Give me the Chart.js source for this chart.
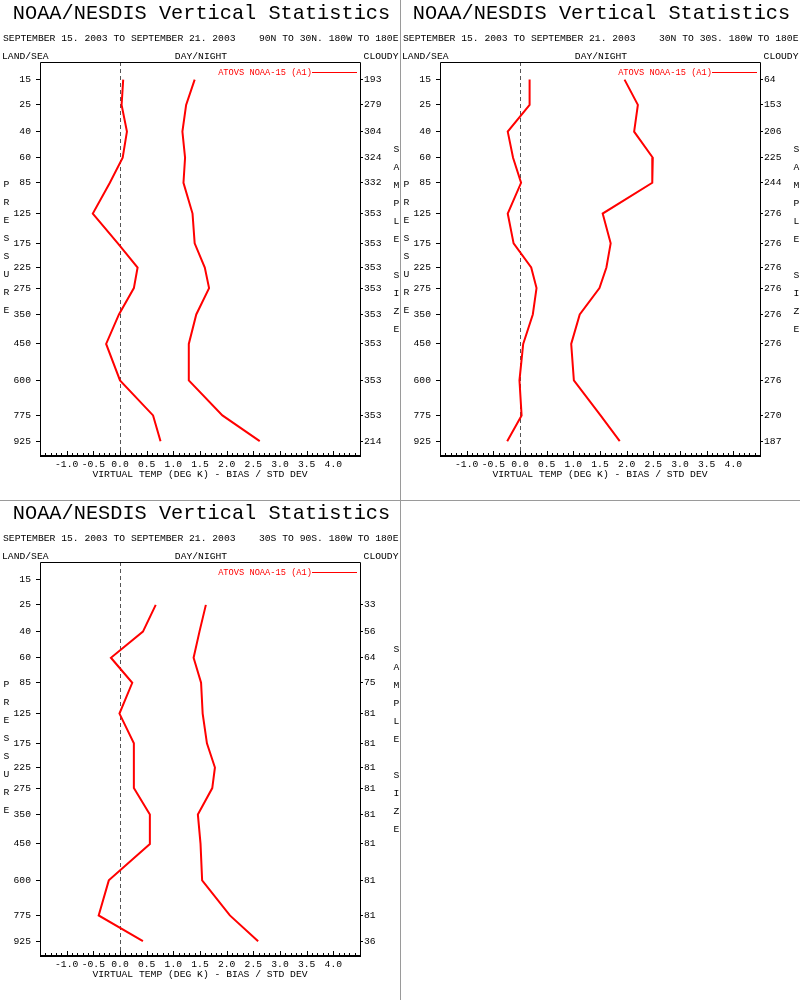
<!DOCTYPE html>
<html lang="en">
<head>
  <meta charset="UTF-8" />
  <title>NOAA/NESDIS Vertical Statistics</title>
  <script src="https://cdn.jsdelivr.net/npm/chart.js"></script>
  <style>
    body {
      margin: 0;
      background: #fff;
      width: 800px;
      height: 1000px;
      position: relative;
      overflow: hidden;
    }
    .panel {
      position: absolute;
      width: 400px;
      height: 500px;
    }
    .sep {
      position: absolute;
      background: #9a9a9a;
      z-index: 2;
    }
  </style>
</head>
<body>
  <div class="panel" style="left:0;top:0"><canvas id="p1" width="400" height="500"></canvas></div>
  <div class="panel" style="left:400px;top:0"><canvas id="p2" width="400" height="500"></canvas></div>
  <div class="panel" style="left:0;top:500px"><canvas id="p3" width="400" height="500"></canvas></div>
  <div class="sep" style="left:400px;top:0;width:1px;height:1000px"></div>
  <div class="sep" style="left:0;top:500px;width:800px;height:1px"></div>

  <script>
    // pressure levels (hPa), the y axis is linear in p^0.286
    const levels = [15, 25, 40, 60, 85, 125, 175, 225, 275, 350, 450, 600, 775, 925];
    const xTicks = [-1.5, -1.0, -0.5, 0.0, 0.5, 1.0, 1.5, 2.0, 2.5, 3.0, 3.5, 4.0, 4.5];

    // 90N to 30N
    const bias1 = [0.06, 0.03, 0.13, 0.05, -0.19, -0.51, -0.04, 0.33, 0.26, -0.02, -0.26, 0.00, 0.62, 0.76];
    const std1 = [1.40, 1.24, 1.17, 1.22, 1.19, 1.36, 1.40, 1.59, 1.67, 1.43, 1.29, 1.29, 1.92, 2.62];
    const count1 = [193, 279, 304, 324, 332, 353, 353, 353, 353, 353, 353, 353, 353, 214];

    // 30N to 30S
    const bias2 = [0.18, 0.18, -0.23, -0.13, 0.02, -0.23, -0.12, 0.21, 0.31, 0.24, 0.06, -0.01, 0.03, -0.24];
    const std2 = [1.96, 2.21, 2.14, 2.49, 2.48, 1.55, 1.70, 1.62, 1.49, 1.12, 0.96, 1.01, 1.51, 1.87];
    const count2 = [64, 153, 206, 225, 244, 276, 276, 276, 276, 276, 276, 276, 270, 187];

    // 30S to 90S (no data at 15 hPa)
    const bias3 = [null, 0.67, 0.43, -0.17, 0.23, -0.01, 0.26, 0.26, 0.26, 0.56, 0.56, -0.21, -0.40, 0.43];
    const std3 = [null, 1.61, 1.49, 1.38, 1.52, 1.55, 1.63, 1.78, 1.73, 1.46, 1.51, 1.54, 2.06, 2.59];
    const count3 = [null, 33, 56, 64, 75, 81, 81, 81, 81, 81, 81, 81, 81, 36];

    const K = 0.286;
    const FONT = 'Liberation Mono';
    const SMALL = 9.7;
    const RED = '#ff0000';
    const period = 'SEPTEMBER 15. 2003 TO SEPTEMBER 21. 2003';
    const satName = 'ATOVS NOAA-15 (A1)';

    const decor = {
      id: 'decor',
      beforeDatasetsDraw(chart) {
        const { ctx, chartArea: a, scales } = chart;
        const x0 = Math.round(scales.x.getPixelForValue(0)) + 0.5;
        ctx.save();
        ctx.strokeStyle = '#555';
        ctx.lineWidth = 1;
        ctx.setLineDash([4, 3]);
        ctx.beginPath();
        ctx.moveTo(x0, a.top);
        ctx.lineTo(x0, a.bottom);
        ctx.stroke();
        ctx.restore();
      },
      afterDraw(chart) {
        const { ctx, chartArea: a, scales } = chart;
        const o = chart.options.plugins.decor;
        ctx.save();
        // plot box
        ctx.strokeStyle = '#000';
        ctx.lineWidth = 1;
        ctx.beginPath();
        ctx.moveTo(a.left + 0.5, a.bottom);
        ctx.lineTo(a.left + 0.5, a.top + 0.5);
        ctx.lineTo(a.right + 0.5, a.top + 0.5);
        ctx.lineTo(a.right + 0.5, a.bottom);
        ctx.stroke();
        ctx.lineWidth = 2;
        ctx.beginPath();
        ctx.moveTo(a.left, a.bottom);
        ctx.lineTo(a.right + 1, a.bottom);
        ctx.stroke();
        // minor / major ticks on the x axis, pointing inward
        ctx.lineWidth = 1;
        ctx.beginPath();
        for (let i = -15; i <= 45; i++) {
          const px = Math.round(scales.x.getPixelForValue(i / 10)) + 0.5;
          const len = i % 5 === 0 ? 4 : 2;
          ctx.moveTo(px, a.bottom);
          ctx.lineTo(px, a.bottom - 1 - len);
        }
        ctx.stroke();

        // header texts
        ctx.fillStyle = '#000';
        ctx.textBaseline = 'alphabetic';
        ctx.font = '20.3px "' + FONT + '"';
        ctx.textAlign = 'center';
        ctx.fillText('NOAA/NESDIS Vertical Statistics', 201.5, 18.5);
        ctx.font = SMALL + 'px "' + FONT + '"';
        ctx.textAlign = 'left';
        ctx.fillText(period, 3, 40.5);
        ctx.fillText('LAND/SEA', 2, 58.5);
        ctx.textAlign = 'right';
        ctx.fillText(o.region, 398.5, 40.5);
        ctx.fillText('CLOUDY', 398.5, 58.5);
        ctx.textAlign = 'center';
        ctx.fillText('DAY/NIGHT', 201, 58.5);

        // vertical labels
        'PRESSURE'.split('').forEach((c, i) => ctx.fillText(c, 6.5, 186.5 + i * 18.1));
        'SAMPLE SIZE'.split('').forEach((c, i) => ctx.fillText(c, 396.5, 151.5 + i * 18.0));

        // legend
        ctx.fillStyle = RED;
        ctx.font = '8.7px "' + FONT + '"';
        ctx.textAlign = 'right';
        ctx.fillText(satName, 312, 75.3);
        ctx.strokeStyle = RED;
        ctx.beginPath();
        ctx.moveTo(312, 72.5);
        ctx.lineTo(357, 72.5);
        ctx.stroke();
        ctx.restore();
      }
    };

    function makePanel(id, region, bias, std, counts) {
      const pts = vals => levels
        .map((p, i) => (vals[i] == null ? null : { x: vals[i], y: Math.pow(p, K) }))
        .filter(Boolean);
      const tickFont = { family: FONT, size: SMALL };
      const levelTicks = s => { s.ticks = levels.map(p => ({ value: Math.pow(p, K) })); };
      const yBase = {
        type: 'linear',
        reverse: true,
        min: Math.pow(10, K),
        max: Math.pow(1020, K),
        afterBuildTicks: levelTicks,
        border: { display: false },
        afterFit: s => { s.width = 40; }
      };

      new Chart(document.getElementById(id), {
        type: 'line',
        data: {
          datasets: [
            { label: 'bias', data: pts(bias), borderColor: RED, borderWidth: 2, pointRadius: 0, tension: 0, fill: false },
            { label: 'std dev', data: pts(std), borderColor: RED, borderWidth: 2, pointRadius: 0, tension: 0, fill: false }
          ]
        },
        options: {
          responsive: false,
          animation: false,
          layout: { padding: { top: 62, left: 0, right: 0, bottom: 0 } },
          plugins: {
            legend: { display: false },
            tooltip: { enabled: false },
            decor: { region: region }
          },
          scales: {
            x: {
              type: 'linear',
              min: -1.5,
              max: 4.5,
              afterBuildTicks: s => { s.ticks = xTicks.map(v => ({ value: v })); },
              ticks: {
                autoSkip: false,
                maxRotation: 0,
                padding: 3,
                color: '#000',
                font: tickFont,
                callback: v => (v >= -1 && v <= 4 ? v.toFixed(1) : '')
              },
              grid: { display: false, drawTicks: false },
              border: { display: false },
              title: {
                display: true,
                text: 'VIRTUAL TEMP (DEG K) - BIAS / STD DEV',
                color: '#000',
                font: tickFont,
                padding: { top: 0, bottom: 20 }
              },
              afterFit: s => { s.height = 44; }
            },
            y: Object.assign({}, yBase, {
              position: 'left',
              ticks: {
                autoSkip: false,
                padding: 5,
                color: '#000',
                font: tickFont,
                callback: (v, i) => String(levels[i])
              },
              grid: { drawOnChartArea: false, tickLength: 4, color: '#000' }
            }),
            y2: Object.assign({}, yBase, {
              position: 'right',
              ticks: {
                autoSkip: false,
                padding: 1,
                color: '#000',
                font: tickFont,
                callback: (v, i) => (counts[i] == null ? '' : String(counts[i]))
              },
              grid: {
                drawOnChartArea: false,
                tickLength: 3,
                color: c => (counts[c.index] == null ? 'rgba(0,0,0,0)' : '#000')
              }
            })
          }
        },
        plugins: [decor]
      });
    }

    makePanel('p1', '90N TO 30N. 180W TO 180E', bias1, std1, count1);
    makePanel('p2', '30N TO 30S. 180W TO 180E', bias2, std2, count2);
    makePanel('p3', '30S TO 90S. 180W TO 180E', bias3, std3, count3);
  </script>
</body>
</html>
